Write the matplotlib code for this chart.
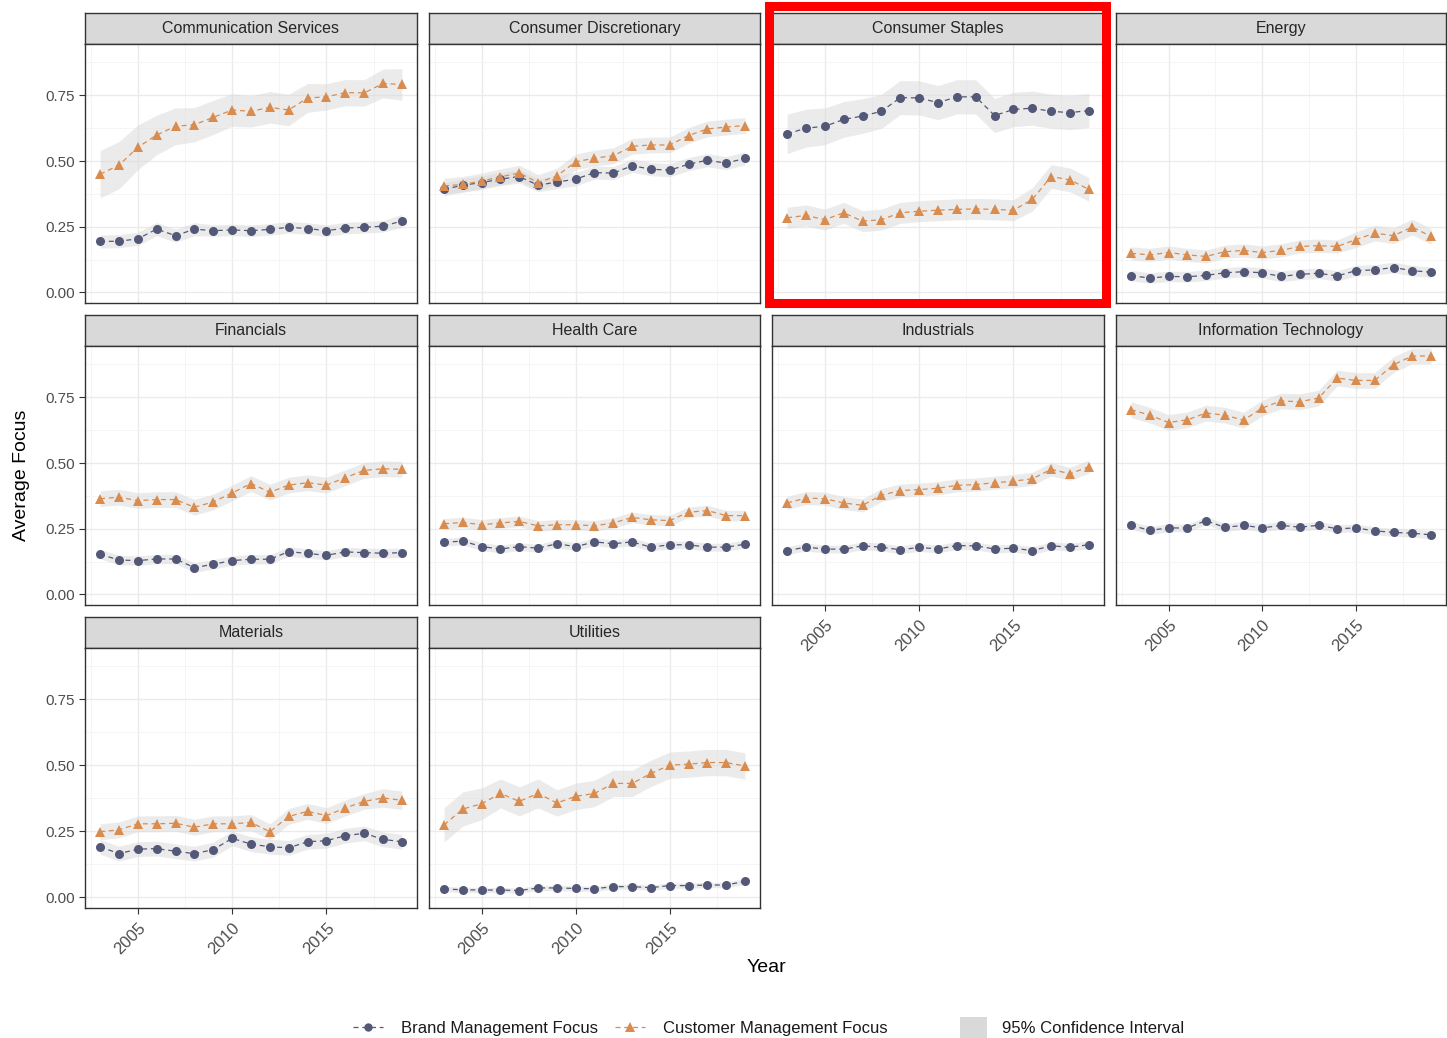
import matplotlib.pyplot as plt
from matplotlib.lines import Line2D
from matplotlib.patches import Patch, Rectangle

plt.rcParams['font.family'] = ['Liberation Sans', 'DejaVu Sans']

years = list(range(2003, 2020))

sectors = ['Communication Services', 'Consumer Discretionary', 'Consumer Staples', 'Energy',
           'Financials', 'Health Care', 'Industrials', 'Information Technology',
           'Materials', 'Utilities']

# average focus per year, brand vs customer management
comm_brand = [0.194, 0.195, 0.204, 0.241, 0.216, 0.241, 0.235, 0.238, 0.235, 0.240, 0.248, 0.243, 0.235, 0.245, 0.248, 0.252, 0.272]
comm_customer = [0.450, 0.484, 0.552, 0.599, 0.632, 0.638, 0.666, 0.694, 0.689, 0.704, 0.694, 0.740, 0.744, 0.760, 0.759, 0.795, 0.791]
disc_brand = [0.392, 0.408, 0.418, 0.431, 0.441, 0.408, 0.420, 0.431, 0.456, 0.454, 0.482, 0.469, 0.465, 0.488, 0.503, 0.492, 0.510]
disc_customer = [0.405, 0.411, 0.424, 0.440, 0.454, 0.418, 0.443, 0.497, 0.511, 0.520, 0.556, 0.561, 0.561, 0.597, 0.622, 0.629, 0.635]
staples_brand = [0.603, 0.625, 0.632, 0.658, 0.671, 0.689, 0.741, 0.740, 0.722, 0.744, 0.744, 0.673, 0.696, 0.701, 0.689, 0.684, 0.692]
staples_customer = [0.284, 0.293, 0.277, 0.303, 0.271, 0.277, 0.303, 0.309, 0.313, 0.316, 0.318, 0.316, 0.313, 0.354, 0.441, 0.428, 0.392]
energy_brand = [0.064, 0.055, 0.061, 0.060, 0.065, 0.075, 0.079, 0.075, 0.061, 0.069, 0.073, 0.063, 0.083, 0.086, 0.095, 0.083, 0.077]
energy_customer = [0.149, 0.143, 0.152, 0.143, 0.137, 0.155, 0.160, 0.152, 0.160, 0.175, 0.178, 0.175, 0.201, 0.226, 0.216, 0.249, 0.213]
fin_brand = [0.153, 0.131, 0.129, 0.135, 0.135, 0.102, 0.115, 0.129, 0.134, 0.134, 0.163, 0.156, 0.149, 0.162, 0.159, 0.157, 0.159]
fin_customer = [0.364, 0.370, 0.357, 0.361, 0.361, 0.332, 0.352, 0.386, 0.422, 0.389, 0.416, 0.425, 0.416, 0.444, 0.472, 0.478, 0.476]
health_brand = [0.199, 0.203, 0.182, 0.173, 0.182, 0.176, 0.193, 0.182, 0.200, 0.193, 0.200, 0.180, 0.189, 0.189, 0.180, 0.180, 0.191]
health_customer = [0.269, 0.274, 0.265, 0.272, 0.278, 0.261, 0.265, 0.265, 0.261, 0.272, 0.293, 0.284, 0.281, 0.313, 0.319, 0.300, 0.300]
ind_brand = [0.167, 0.180, 0.173, 0.172, 0.185, 0.180, 0.170, 0.179, 0.173, 0.186, 0.185, 0.173, 0.176, 0.167, 0.185, 0.180, 0.189]
ind_customer = [0.348, 0.367, 0.364, 0.348, 0.339, 0.378, 0.395, 0.399, 0.404, 0.415, 0.418, 0.425, 0.431, 0.440, 0.476, 0.459, 0.486]
it_brand = [0.263, 0.244, 0.253, 0.253, 0.281, 0.255, 0.263, 0.253, 0.263, 0.256, 0.263, 0.250, 0.253, 0.242, 0.236, 0.233, 0.227]
it_customer = [0.703, 0.682, 0.654, 0.664, 0.690, 0.682, 0.663, 0.709, 0.736, 0.733, 0.747, 0.823, 0.814, 0.814, 0.874, 0.907, 0.907]
mat_brand = [0.192, 0.166, 0.183, 0.185, 0.175, 0.166, 0.181, 0.224, 0.202, 0.192, 0.188, 0.211, 0.215, 0.234, 0.243, 0.220, 0.211]
mat_customer = [0.249, 0.256, 0.279, 0.279, 0.281, 0.266, 0.279, 0.279, 0.284, 0.249, 0.307, 0.326, 0.310, 0.339, 0.364, 0.377, 0.368]
util_brand = [0.032, 0.029, 0.028, 0.028, 0.026, 0.036, 0.036, 0.034, 0.033, 0.041, 0.041, 0.037, 0.045, 0.045, 0.047, 0.047, 0.061]
util_customer = [0.275, 0.335, 0.355, 0.394, 0.364, 0.394, 0.358, 0.383, 0.394, 0.432, 0.432, 0.470, 0.501, 0.505, 0.511, 0.511, 0.498]

# 95% CI half widths
comm_brand_ci = [0.025, 0.025, 0.025, 0.025, 0.025, 0.025, 0.022, 0.022, 0.022, 0.022, 0.022, 0.022, 0.022, 0.022, 0.022, 0.022, 0.025]
comm_customer_ci = [0.09, 0.09, 0.085, 0.075, 0.07, 0.065, 0.065, 0.062, 0.06, 0.06, 0.06, 0.055, 0.05, 0.05, 0.05, 0.055, 0.06]
disc_brand_ci = [0.025, 0.025, 0.025, 0.025, 0.025, 0.025, 0.025, 0.025, 0.025, 0.025, 0.025, 0.025, 0.025, 0.025, 0.025, 0.025, 0.025]
disc_customer_ci = [0.03, 0.03, 0.03, 0.03, 0.03, 0.03, 0.03, 0.03, 0.03, 0.03, 0.03, 0.03, 0.03, 0.03, 0.03, 0.03, 0.03]
staples_brand_ci = [0.075, 0.072, 0.07, 0.068, 0.066, 0.065, 0.065, 0.065, 0.065, 0.065, 0.065, 0.065, 0.065, 0.065, 0.065, 0.065, 0.065]
staples_customer_ci = [0.04, 0.04, 0.04, 0.04, 0.04, 0.04, 0.04, 0.04, 0.04, 0.04, 0.04, 0.04, 0.04, 0.045, 0.045, 0.045, 0.045]
energy_brand_ci = [0.02, 0.02, 0.02, 0.02, 0.02, 0.02, 0.02, 0.02, 0.02, 0.02, 0.02, 0.02, 0.02, 0.02, 0.02, 0.02, 0.02]
energy_customer_ci = [0.025, 0.025, 0.025, 0.025, 0.025, 0.025, 0.025, 0.025, 0.025, 0.025, 0.025, 0.025, 0.03, 0.03, 0.03, 0.03, 0.03]
fin_brand_ci = [0.018, 0.018, 0.018, 0.018, 0.018, 0.018, 0.018, 0.018, 0.018, 0.018, 0.018, 0.018, 0.018, 0.018, 0.018, 0.018, 0.018]
fin_customer_ci = [0.03, 0.03, 0.03, 0.03, 0.03, 0.03, 0.03, 0.03, 0.03, 0.03, 0.03, 0.03, 0.03, 0.03, 0.03, 0.03, 0.03]
health_brand_ci = [0.015, 0.015, 0.015, 0.015, 0.015, 0.015, 0.015, 0.015, 0.015, 0.015, 0.015, 0.015, 0.015, 0.015, 0.015, 0.015, 0.015]
health_customer_ci = [0.02, 0.02, 0.02, 0.02, 0.02, 0.02, 0.02, 0.02, 0.02, 0.02, 0.02, 0.02, 0.02, 0.02, 0.02, 0.02, 0.02]
ind_brand_ci = [0.015, 0.015, 0.015, 0.015, 0.015, 0.015, 0.015, 0.015, 0.015, 0.015, 0.015, 0.015, 0.015, 0.015, 0.015, 0.015, 0.015]
ind_customer_ci = [0.025, 0.025, 0.025, 0.025, 0.025, 0.025, 0.025, 0.025, 0.025, 0.025, 0.025, 0.025, 0.025, 0.025, 0.025, 0.025, 0.025]
it_brand_ci = [0.015, 0.015, 0.015, 0.015, 0.015, 0.015, 0.015, 0.015, 0.015, 0.015, 0.015, 0.015, 0.015, 0.015, 0.015, 0.015, 0.015]
it_customer_ci = [0.03, 0.03, 0.03, 0.03, 0.03, 0.03, 0.03, 0.03, 0.03, 0.03, 0.03, 0.03, 0.03, 0.03, 0.03, 0.03, 0.03]
mat_brand_ci = [0.028, 0.028, 0.028, 0.028, 0.028, 0.028, 0.028, 0.028, 0.028, 0.028, 0.028, 0.028, 0.028, 0.028, 0.028, 0.028, 0.028]
mat_customer_ci = [0.03, 0.03, 0.03, 0.03, 0.03, 0.03, 0.03, 0.03, 0.03, 0.03, 0.03, 0.03, 0.03, 0.03, 0.03, 0.035, 0.035]
util_brand_ci = [0.01, 0.01, 0.01, 0.01, 0.01, 0.01, 0.01, 0.01, 0.01, 0.01, 0.01, 0.01, 0.01, 0.01, 0.01, 0.01, 0.012]
util_customer_ci = [0.065, 0.065, 0.06, 0.055, 0.055, 0.055, 0.05, 0.05, 0.05, 0.05, 0.05, 0.05, 0.05, 0.05, 0.05, 0.05, 0.05]

brand_series = [comm_brand, disc_brand, staples_brand, energy_brand, fin_brand,
                health_brand, ind_brand, it_brand, mat_brand, util_brand]
customer_series = [comm_customer, disc_customer, staples_customer, energy_customer, fin_customer,
                   health_customer, ind_customer, it_customer, mat_customer, util_customer]
brand_cis = [comm_brand_ci, disc_brand_ci, staples_brand_ci, energy_brand_ci, fin_brand_ci,
             health_brand_ci, ind_brand_ci, it_brand_ci, mat_brand_ci, util_brand_ci]
customer_cis = [comm_customer_ci, disc_customer_ci, staples_customer_ci, energy_customer_ci, fin_customer_ci,
                health_customer_ci, ind_customer_ci, it_customer_ci, mat_customer_ci, util_customer_ci]

BRAND_COL = '#545878'
CUST_COL = '#d98c4e'
BAND_COL = '#d9d9d9'
GRID_MAJ = '#ebebeb'
GRID_MIN = '#f4f4f4'
TEXT_COL = '#4d4d4d'

W, H = 1447, 1038
fig = plt.figure(figsize=(W / 100, H / 100), dpi=100)


def rect(x0, y0, x1, y1):
    return [x0 / W, 1 - y1 / H, (x1 - x0) / W, (y1 - y0) / H]


cols = [(85, 417), (429, 760), (772, 1104), (1116, 1446)]
rows = [(13, 44, 303), (315, 346, 605), (617, 648, 908)]

for i, name in enumerate(sectors):
    r, c = divmod(i, 4)
    x0, x1 = cols[c]
    s0, p0, p1 = rows[r]

    # strip with facet title
    sax = fig.add_axes(rect(x0, s0, x1, p0))
    sax.set_facecolor(BAND_COL)
    sax.set_xticks([])
    sax.set_yticks([])
    for sp in sax.spines.values():
        sp.set_color('#333333')
        sp.set_linewidth(1.0)
    sax.text(0.5, 0.5, name, ha='center', va='center', fontsize=11.5, color='#262626',
             transform=sax.transAxes)

    ax = fig.add_axes(rect(x0, p0, x1, p1))
    ax.set_xlim(2002.2, 2019.8)
    ax.set_ylim(-0.04, 0.945)
    ax.set_xticks([2005, 2010, 2015])
    ax.set_xticks([2002.5, 2007.5, 2012.5, 2017.5], minor=True)
    ax.set_yticks([0.0, 0.25, 0.5, 0.75])
    ax.set_yticks([0.125, 0.375, 0.625, 0.875], minor=True)
    ax.grid(which='major', color=GRID_MAJ, linewidth=1.0)
    ax.grid(which='minor', color=GRID_MIN, linewidth=0.6)
    ax.set_axisbelow(True)
    for sp in ax.spines.values():
        sp.set_color('#333333')
        sp.set_linewidth(1.0)
    ax.tick_params(which='minor', length=0)
    ax.tick_params(which='major', length=4, color='#333333', labelsize=11, labelcolor=TEXT_COL)

    b = brand_series[i]
    cu = customer_series[i]
    bci = brand_cis[i]
    cci = customer_cis[i]
    ax.fill_between(years, [v - e for v, e in zip(cu, cci)], [v + e for v, e in zip(cu, cci)],
                    color=BAND_COL, alpha=0.5, linewidth=0)
    ax.fill_between(years, [v - e for v, e in zip(b, bci)], [v + e for v, e in zip(b, bci)],
                    color=BAND_COL, alpha=0.5, linewidth=0)
    ax.plot(years, b, color=BRAND_COL, linestyle=(0, (4, 3)), linewidth=0.9,
            marker='o', markersize=6.5, markeredgewidth=0)
    ax.plot(years, cu, color=CUST_COL, linestyle=(0, (4, 3)), linewidth=0.9,
            marker='^', markersize=7.5, markeredgewidth=0)

    if c == 0:
        ax.set_yticklabels(['0.00', '0.25', '0.50', '0.75'])
    else:
        ax.tick_params(axis='y', which='both', left=False, labelleft=False)

    bottom = (r == 2) or (r == 1 and c >= 2)
    if bottom:
        ax.set_xticklabels(['2005', '2010', '2015'], rotation=45, ha='right', va='top',
                           rotation_mode='anchor', fontsize=12)
        ax.tick_params(axis='x', pad=5)
    else:
        ax.tick_params(axis='x', which='both', bottom=False, labelbottom=False)

fig.text(22 / W, 1 - 475 / H, 'Average Focus', rotation=90, ha='center', va='center',
         fontsize=14, color='#000000')
fig.text(766 / W, 1 - 968 / H, 'Year', ha='center', va='center', fontsize=14, color='#000000')

# highlight box around one facet
fig.patches.append(Rectangle((769 / W, 1 - 303 / H), (1106 - 769) / W, (303 - 6) / H,
                             transform=fig.transFigure, fill=False, edgecolor='#ff0000',
                             linewidth=6.5))

line_handles = [
    Line2D([], [], color=BRAND_COL, linestyle=(0, (4, 3)), linewidth=0.9, marker='o',
           markersize=6, markeredgewidth=0),
    Line2D([], [], color=CUST_COL, linestyle=(0, (4, 3)), linewidth=0.9, marker='^',
           markersize=7, markeredgewidth=0),
]
leg1 = fig.legend(line_handles, ['Brand Management Focus', 'Customer Management Focus'],
                  loc='center', bbox_to_anchor=(620 / W, 1 - 1028 / H), ncol=2, frameon=False,
                  fontsize=12, handlelength=1.8, columnspacing=1.0, handletextpad=1.1,
                  labelcolor='#1a1a1a')
leg2 = fig.legend([Patch(facecolor=BAND_COL, edgecolor='none')], ['95% Confidence Interval'],
                  loc='center', bbox_to_anchor=(1072 / W, 1 - 1028 / H), frameon=False,
                  fontsize=12, handlelength=1.6, handleheight=1.6, handletextpad=0.9,
                  labelcolor='#1a1a1a')

fig.savefig('out.png', dpi=100)
